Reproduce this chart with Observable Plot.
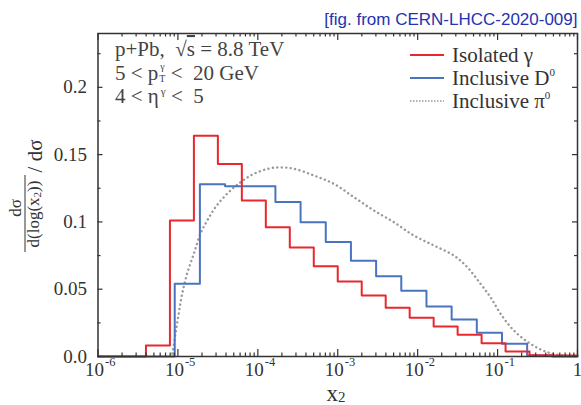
<!DOCTYPE html>
<html><head><meta charset="utf-8">
<script src="https://cdn.jsdelivr.net/npm/d3@7"></script>
<script src="https://cdn.jsdelivr.net/npm/@observablehq/plot@0.6"></script>
<style>body{margin:0;background:#fff} #chart{width:581px;height:405px}</style>
</head><body><div id="chart"></div>
<script>
// ---- data (log10 of x2 bin edges, normalised dσ/d(log x2)/σ) ----
const isoGammaEdges = [-6, -5.4, -5.1, -4.8, -4.5, -4.2, -3.9, -3.6, -3.3, -3.0, -2.7, -2.4, -2.1, -1.8, -1.5, -1.2, -0.9, -0.6, -0.3, 0];
const isoGammaValues = [0, 0.0082, 0.101, 0.164, 0.143, 0.116, 0.096, 0.081, 0.067, 0.0557, 0.0453, 0.0362, 0.0288, 0.0223, 0.0161, 0.0099, 0.0037, 0.001, 0.0008];
const incD0Edges = [-6, -5.04, -4.725, -4.41, -4.095, -3.78, -3.465, -3.15, -2.835, -2.52, -2.205, -1.89, -1.575, -1.26, -0.945, -0.63, -0.315, 0];
const incD0Values = [0, 0.054, 0.128, 0.1265, 0.1265, 0.1148, 0.0998, 0.085, 0.0711, 0.0597, 0.0488, 0.0372, 0.0275, 0.0176, 0.0094, 0.0008, 0];
const pi0LogX = [-5.07, -5.03, -4.99, -4.946, -4.884, -4.80, -4.717, -4.633, -4.529, -4.383, -4.217, -4.05, -3.85, -3.72, -3.549, -3.299, -3.049, -2.798, -2.548, -2.298, -2.048, -1.797, -1.547, -1.379, -1.213, -1.088, -0.962, -0.796, -0.587, -0.378, -0.17, 0];
const pi0Values = [0.0022, 0.0171, 0.0319, 0.0468, 0.0617, 0.0765, 0.0914, 0.101, 0.111, 0.121, 0.1295, 0.1357, 0.1398, 0.1405, 0.1395, 0.1345, 0.1283, 0.1184, 0.1085, 0.0998, 0.0899, 0.0825, 0.075, 0.0664, 0.054, 0.044, 0.0317, 0.0193, 0.0094, 0.0032, 0.0007, 0];
const xMajorExps = [-6, -5, -4, -3, -2, -1];
const xMinorMult = [2, 3, 4, 5, 6, 7, 8, 9];
const yMajorTicks = [0, 0.05, 0.1, 0.15, 0.2];
const yTickLabels = ["0.0", "0.05", "0.1", "0.15", "0.2"];
const yMinorTicks = [0.025, 0.075, 0.125, 0.175, 0.225];
const seriesNames = ["Isolated γ", "Inclusive D", "Inclusive π"];
const titleText = "[fig. from CERN-LHCC-2020-009]";

const RED = "#e8282e", BLUE = "#4a74c0", GRAY = "#999999", INK = "#333";

function stepRows(edges, vals) {
  const rows = vals.map((v, i) => ({x: 10 ** edges[i], y: v}));
  rows.push({x: 10 ** edges[edges.length - 1], y: vals[vals.length - 1]});
  return rows;
}
const redRows = stepRows(isoGammaEdges, isoGammaValues);
const blueRows = stepRows(incD0Edges, incD0Values);
const pi0Rows = pi0LogX.map((lx, i) => ({x: 10 ** lx, y: pi0Values[i]}));

const xMajor = xMajorExps.map(e => 10 ** e).concat([1]);
const xMinor = xMajorExps.flatMap(e => xMinorMult.map(m => m * 10 ** e));

const W = 581, H = 405, mT = 33, mB = 49, mL = 97.5, mR = 4;
const fH = H - mT - mB, fW = W - mL - mR;

const plot = Plot.plot({
  width: W, height: H,
  marginTop: mT, marginBottom: mB, marginLeft: mL, marginRight: mR,
  x: {type: "log", domain: [1e-6, 1], axis: null},
  y: {domain: [0, 0.24], axis: null},
  style: {background: "white", fontFamily: "Liberation Serif", color: INK},
  marks: [
    Plot.line(pi0Rows, {x: "x", y: "y", stroke: GRAY, strokeWidth: 2.4, strokeDasharray: "0.1,4.4", strokeLinecap: "round", curve: "catmull-rom"}),
    Plot.line(blueRows, {x: "x", y: "y", curve: "step-after", stroke: BLUE, strokeWidth: 2}),
    Plot.line(redRows, {x: "x", y: "y", curve: "step-after", stroke: RED, strokeWidth: 2}),
    // inward ticks
    Plot.tickX(xMajor, {x: d => d, stroke: INK, strokeWidth: 1.2, insetTop: fH - 7}),
    Plot.tickX(xMinor, {x: d => d, stroke: INK, strokeWidth: 1.2, insetTop: fH - 3.5}),
    Plot.tickX(xMajor, {x: d => d, stroke: INK, strokeWidth: 1.2, insetBottom: fH - 7}),
    Plot.tickX(xMinor, {x: d => d, stroke: INK, strokeWidth: 1.2, insetBottom: fH - 3.5}),
    Plot.tickY(yMajorTicks, {y: d => d, stroke: INK, strokeWidth: 1.2, insetRight: fW - 5}),
    Plot.tickY(yMinorTicks, {y: d => d, stroke: INK, strokeWidth: 1.2, insetRight: fW - 3}),
    Plot.tickY(yMajorTicks, {y: d => d, stroke: INK, strokeWidth: 1.2, insetLeft: fW - 5}),
    Plot.tickY(yMinorTicks, {y: d => d, stroke: INK, strokeWidth: 1.2, insetLeft: fW - 3}),
    Plot.frame({stroke: INK, strokeWidth: 1.5}),
    // y tick labels
    Plot.text(yMajorTicks, {y: d => d, text: (d, i) => yTickLabels[i], frameAnchor: "left", textAnchor: "end", dx: -11, fontSize: 19, fill: INK}),
    // x tick labels 10^e
    Plot.text(xMajorExps, {x: e => 10 ** e, text: () => "10", frameAnchor: "bottom", textAnchor: "end", dx: 6, dy: 19, fontSize: 19, fill: INK}),
    Plot.text(xMajorExps, {x: e => 10 ** e, text: e => String(e), frameAnchor: "bottom", textAnchor: "start", dx: 7, dy: 9, fontSize: 12.5, fill: INK}),
    Plot.text([1], {x: d => d, text: () => "1", frameAnchor: "bottom", dy: 19, fontSize: 19, fill: INK}),
    // title
    Plot.text([titleText], {text: d => d, frameAnchor: "top-right", textAnchor: "end", dy: -20.5, fontSize: 17, fill: "#2433b0", fontFamily: "Liberation Sans"})
  ]
});
document.getElementById("chart").appendChild(plot);

const svg = d3.select(plot);
const serif = "Liberation Serif";

// x axis label
const xl = svg.append("text").attr("x", 336).attr("y", 401).attr("text-anchor", "middle")
  .attr("font-family", serif).attr("fill", INK);
xl.append("tspan").attr("font-size", 23).text("x");
xl.append("tspan").attr("font-size", 15).attr("dy", 1).text("2");

// y axis label (rotated fraction)
const yl = svg.append("g").attr("font-family", serif).attr("fill", INK).attr("text-anchor", "middle");
yl.append("text").attr("transform", "translate(21,208) rotate(-90)").attr("font-size", 17).text("dσ");
yl.append("line").attr("x1", 25).attr("x2", 25).attr("y1", 175).attr("y2", 252).attr("stroke", INK).attr("stroke-width", 1);
const den = yl.append("text").attr("transform", "translate(39,214) rotate(-90)").attr("font-size", 17);
den.append("tspan").text("d(log(x");
den.append("tspan").attr("font-size", 11).attr("dy", 2).text("2");
den.append("tspan").attr("dy", -2).text("))");
yl.append("text").attr("transform", "translate(42,156) rotate(-90)").attr("font-size", 21).attr("style", "white-space:pre").text("/ dσ");

// annotation
const ann = svg.append("g").attr("font-family", serif).attr("fill", "#444").attr("font-size", 21)
  .attr("text-anchor", "start").attr("style", "white-space:pre");
const a1 = ann.append("text").attr("x", 115).attr("y", 56);
a1.append("tspan").text("p+Pb,  √");
a1.append("tspan").attr("text-decoration", "overline").text("s");
a1.append("tspan").text(" = 8.8 TeV");
const a2 = ann.append("text").attr("x", 115).attr("y", 80);
a2.append("tspan").text("5 < p");
a2.append("tspan").attr("font-size", 10).attr("dx", 2).attr("dy", -10).text("γ");
a2.append("tspan").attr("font-size", 10).attr("dx", -5.5).attr("dy", 12).text("T");
a2.append("tspan").attr("dy", -2).text(" <  20 GeV");
const a3 = ann.append("text").attr("x", 115).attr("y", 103);
a3.append("tspan").text("4 < η");
a3.append("tspan").attr("font-size", 11).attr("dx", 2).attr("dy", -8).text("γ");
a3.append("tspan").attr("dy", 8).text(" <  5");

// legend
const lg = svg.append("g").attr("font-family", serif).attr("fill", INK).attr("font-size", 21).attr("text-anchor", "start");
const legY = [55, 78, 101];
const legStyle = [{stroke: RED, dash: null}, {stroke: BLUE, dash: null}, {stroke: GRAY, dash: "1.5,1.5"}];
seriesNames.forEach((name, i) => {
  lg.append("line").attr("x1", 410).attr("x2", 444).attr("y1", legY[i]).attr("y2", legY[i])
    .attr("stroke", legStyle[i].stroke).attr("stroke-width", i === 2 ? 1.5 : 2).attr("stroke-dasharray", legStyle[i].dash);
  const t = lg.append("text").attr("x", 452).attr("y", legY[i] + 6.5);
  t.append("tspan").text(name);
  if (i > 0) t.append("tspan").attr("font-size", 11).attr("dy", -9).text("0");
});
</script></body></html>
